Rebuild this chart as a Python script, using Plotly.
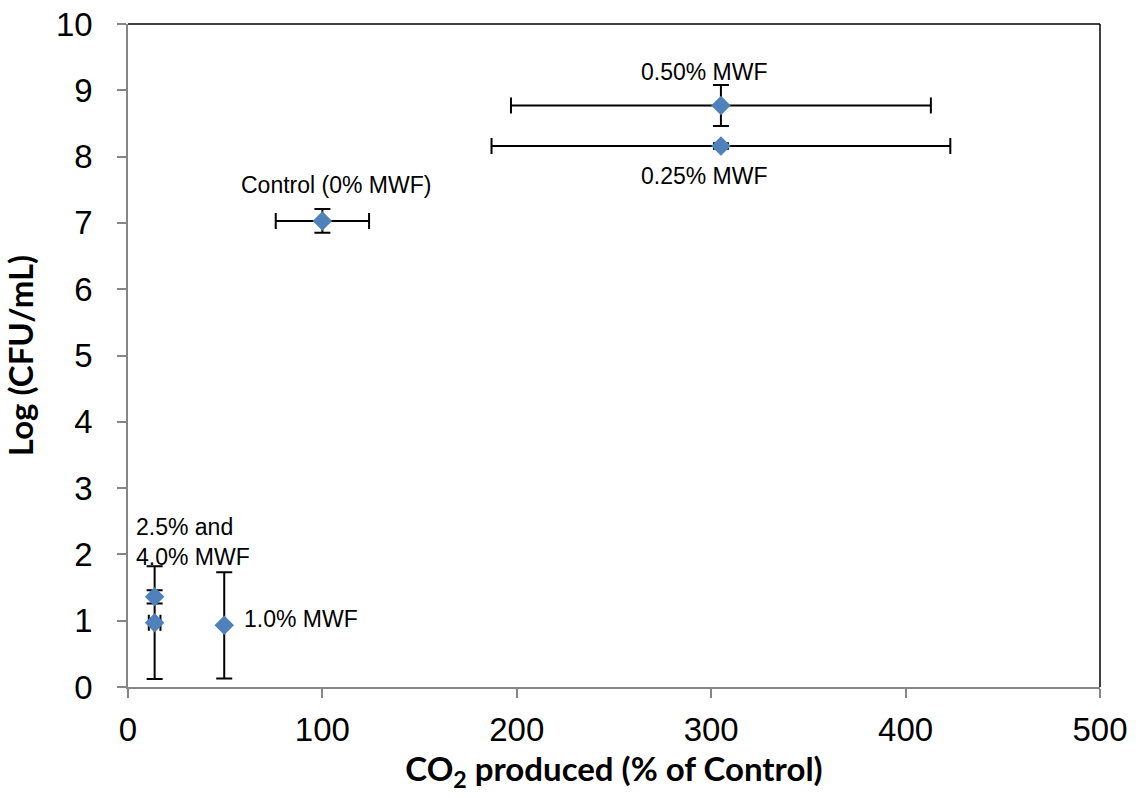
import plotly.graph_objects as go

# CO2 production (% of control) vs. viable counts, per MWF concentration
labels = ["Control (0% MWF)", "0.25% MWF", "0.50% MWF", "1.0% MWF", "2.5% MWF", "4.0% MWF"]
co2_pct = [100, 305, 305, 49.5, 13.7, 13.7]
co2_err = [24, 118, 108, 0, 0, 3]
log_cfu = [7.03, 8.16, 8.77, 0.93, 1.36, 0.97]
log_err = [0.18, 0.04, 0.31, 0.80, 0.10, 0.85]

x_ticks = [0, 100, 200, 300, 400, 500]
y_ticks = list(range(0, 11))

marker_blue = "#4F81BD"
axis_gray = "#868686"
label_font = dict(family="Liberation Sans, Arial, sans-serif", size=23, color="black")

fig = go.Figure()
fig.add_trace(go.Scatter(
    x=co2_pct, y=log_cfu, mode="markers", text=labels,
    marker=dict(symbol="diamond", size=15, color=marker_blue, line=dict(width=0)),
    error_x=dict(type="data", array=co2_err, visible=True, color="black", thickness=2, width=8),
    error_y=dict(type="data", array=log_err, visible=True, color="black", thickness=2, width=8),
    showlegend=False,
))

# Point labels
fig.add_annotation(x=107, y=7.57, text="Control (0% MWF)", showarrow=False, font=label_font)
fig.add_annotation(x=296.7, y=9.28, text="0.50% MWF", showarrow=False, font=label_font)
fig.add_annotation(x=296.7, y=7.71, text="0.25% MWF", showarrow=False, font=label_font)
fig.add_annotation(x=58.6, y=1.03, text="1.0% MWF", showarrow=False, xanchor="left", font=label_font)
fig.add_annotation(x=2.9, y=2.19, text="2.5% and<br>4.0% MWF", showarrow=False, xanchor="left",
                   align="left", font=label_font)

# Black frame on the top and right sides of the plot area
fig.add_shape(type="line", xref="paper", yref="paper", x0=0, x1=1, y0=1, y1=1,
              line=dict(color="black", width=1.5))
fig.add_shape(type="line", xref="paper", yref="paper", x0=1, x1=1, y0=0, y1=1,
              line=dict(color="black", width=1.5))

tick_font = dict(family="Liberation Sans, Arial, sans-serif", size=33, color="black")
title_font = dict(family="Lato, sans-serif", size=33, color="black")

fig.update_xaxes(
    range=[0, 500], tickvals=x_ticks, ticktext=[str(v) for v in x_ticks],
    showgrid=False, zeroline=False, showline=True, linecolor=axis_gray, linewidth=1.5,
    ticks="outside", ticklen=9, tickcolor=axis_gray, tickwidth=1.5,
    tickfont=tick_font, ticklabelstandoff=4, automargin=False,
    title=dict(text="<b>CO<sub>2</sub> produced (% of Control)</b>", font=title_font, standoff=10),
)
fig.update_yaxes(
    range=[0, 10], tickvals=y_ticks, ticktext=[str(v) for v in y_ticks],
    showgrid=False, zeroline=False, showline=True, linecolor=axis_gray, linewidth=1.5,
    ticks="outside", ticklen=9, tickcolor=axis_gray, tickwidth=1.5,
    tickfont=tick_font, ticklabelstandoff=18, automargin=False,
    title=dict(text="<b>Log (CFU/mL)</b>", font=title_font, standoff=12),
)

fig.update_layout(
    width=1136, height=798,
    margin=dict(l=128, r=36, t=24, b=111),
    paper_bgcolor="white", plot_bgcolor="white",
)

fig.write_html("out.html")
